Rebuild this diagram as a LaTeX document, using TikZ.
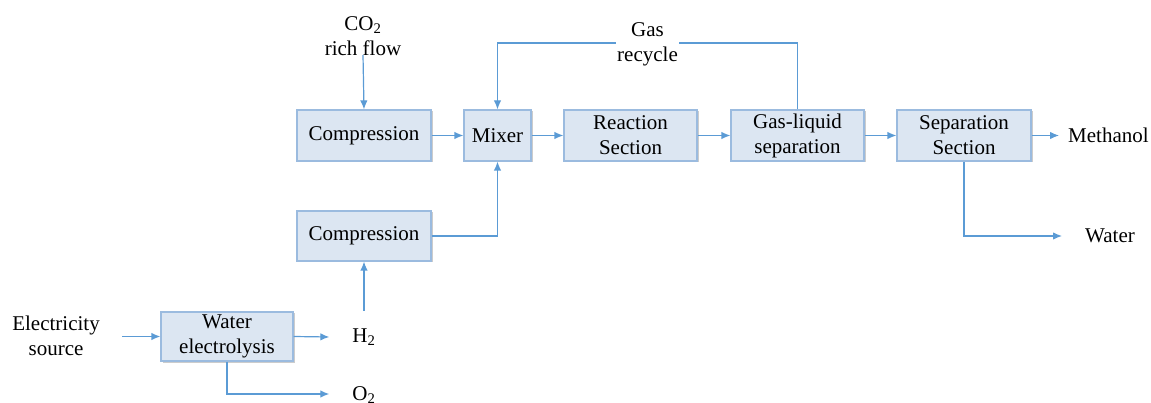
\documentclass[tikz,border=0pt]{standalone}
\usepackage{fontspec}
\setmainfont{Liberation Serif}
\usetikzlibrary{arrows.meta,shadows}
\definecolor{boxfill}{HTML}{DCE6F2}
\definecolor{boxdraw}{HTML}{9BBBDF}
\definecolor{linec}{HTML}{5B9BD5}
\tikzset{
  blk/.style={draw=boxdraw, line width=1.2pt, fill=boxfill, align=center,
    inner sep=0pt, font=\fontsize{21}{25}\selectfont,
    drop shadow={shadow xshift=1.5pt, shadow yshift=-1.5pt, opacity=0.2, fill=black}},
  lbl/.style={align=center, inner sep=0pt, font=\fontsize{21}{25}\selectfont},
  arr/.style={draw=linec, line width=1.2pt, -{Latex[length=9pt,width=7.5pt]}},
}
\begin{document}
\begin{tikzpicture}[x=1pt,y=-1pt]
\useasboundingbox (0,0) rectangle (1151,403);
% boxes
\node[blk, minimum width=134pt, minimum height=51pt] (c1) at (364,135.5) {Compression};
\node[blk, minimum width=67pt, minimum height=51pt] (mx) at (497.5,135.5) {Mixer};
\node[blk, minimum width=133pt, minimum height=51pt] (rs) at (630.5,135.5) {Reaction\\Section};
\node[blk, minimum width=133pt, minimum height=51pt] (gl) at (797.5,135.5) {Gas-liquid\\separation};
\node[blk, minimum width=134pt, minimum height=51pt] (ss) at (964,135.5) {Separation\\Section};
\node[blk, minimum width=134pt, minimum height=50pt] (c2) at (364,236) {Compression};
\node[blk, minimum width=132pt, minimum height=49pt] (we) at (227,336.5) {Water\\electrolysis};
% labels
\node[lbl] (co2) at (363,36) {CO\textsubscript{2}\\rich flow};
\node[lbl] (h2) at (364,337) {H\textsubscript{2}};
\node[lbl] (o2) at (364,395) {O\textsubscript{2}};
\node[lbl] (el) at (56,336) {Electricity\\source};
\node[lbl, anchor=west] (me) at (1068,135.5) {Methanol};
\node[lbl] (wa) at (1110,236) {Water};
\coordinate (elout) at (122,336.5);
% connectors
\draw[arr] (co2.south |- 0,55) -- (c1.north);
\draw[arr] (c1.east) -- (mx.west);
\draw[arr] (mx.east) -- (rs.west);
\draw[arr] (rs.east) -- (gl.west);
\draw[arr] (gl.east) -- (ss.west);
\draw[arr] (gl.north) -- (gl.north |- 0,43) -- (mx.north |- 0,43) -- (mx.north);
\node[lbl, fill=white, inner xsep=1pt] (gr) at (647.5,44) {Gas\\recycle};
\draw[arr] (c2.east) -- (c2.east -| mx.south) -- (mx.south);
\draw[arr] (h2.north |- 0,311) -- (c2.south);
\draw[arr] (elout) -- (we.west);
\draw[arr] (we.east) -- ([xshift=-23pt]h2.west);
\draw[arr] (we.south) -- (we.south |- 0,394) -- ([xshift=-23pt]o2.west |- 0,394);
\draw[arr] (ss.east) -- ([xshift=-9pt]me.west);
\draw[arr] (ss.south) -- (ss.south |- 0,236) -- ([xshift=-23pt]wa.west);
\end{tikzpicture}
\end{document}
